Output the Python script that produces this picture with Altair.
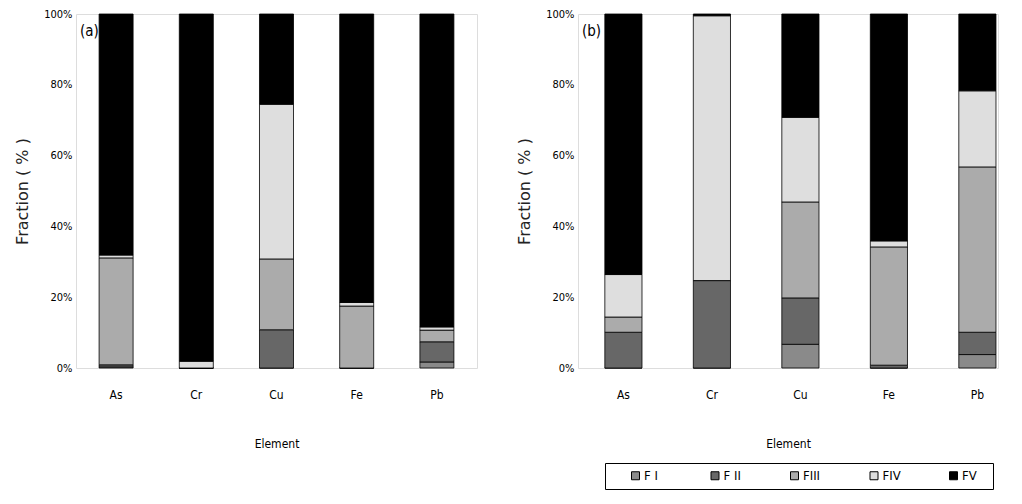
import altair as alt
import pandas as pd

elements = ["As", "Cr", "Cu", "Fe", "Pb"]
fractions = ["F I", "F II", "FIII", "FIV", "FV"]
fill_colors = ["#8a8a8a", "#676767", "#ababab", "#dedede", "#000000"]

# panel (a)
a_FI = [0.3, 0.0, 0.0, 0.0, 1.7]
a_FII = [0.6, 0.0, 10.8, 0.0, 5.7]
a_FIII = [30.2, 0.0, 20.0, 17.5, 3.3]
a_FIV = [0.8, 1.9, 43.7, 1.0, 0.9]
a_FV = [68.1, 98.1, 25.5, 81.5, 88.4]

# panel (b)
b_FI = [0.0, 0.0, 6.7, 0.0, 3.8]
b_FII = [10.1, 24.7, 13.1, 0.8, 6.3]
b_FIII = [4.3, 0.0, 27.1, 33.4, 46.7]
b_FIV = [12.0, 74.8, 23.9, 1.7, 21.5]
b_FV = [73.6, 0.5, 29.2, 64.1, 21.7]

y_ticks = [0, 20, 40, 60, 80, 100]

FONT = "Liberation Sans Narrow, DejaVu Sans Condensed, Liberation Sans, sans-serif"


def make_df(series):
    rows = []
    for k, (fr, vals) in enumerate(zip(fractions, series)):
        for el, v in zip(elements, vals):
            rows.append({"Element": el, "Fraction": fr, "order": k, "value": v})
    return pd.DataFrame(rows)


df_a = make_df([a_FI, a_FII, a_FIII, a_FIV, a_FV])
df_b = make_df([b_FI, b_FII, b_FIII, b_FIV, b_FV])


def panel(df, tag, width, height, x_scale, legend):
    bars = alt.Chart(df).mark_bar(stroke="black", strokeWidth=0.8).encode(
        x=alt.X("Element:N", sort=elements, scale=x_scale,
                axis=alt.Axis(title="Element", labelAngle=0, labelPadding=21,
                              titlePadding=38, ticks=False, domain=False,
                              labelFontSize=12, titleFontSize=12,
                              labelFont=FONT, titleFont=FONT,
                              titleFontWeight="normal", labelColor="black",
                              titleColor="black")),
        y=alt.Y("value:Q", stack="zero",
                scale=alt.Scale(domain=[0, 100], nice=False),
                axis=alt.Axis(title="Fraction ( % )", values=y_ticks,
                              labelExpr="datum.value + '%'", grid=False,
                              ticks=False, domain=False, labelPadding=4,
                              labelFontSize=11, titleFontSize=16,
                              labelFont=FONT, titleFont="DejaVu Sans",
                              titleFontWeight="normal", titlePadding=13,
                              labelColor="black", titleColor="#222222")),
        color=alt.Color("Fraction:N", sort=fractions,
                        scale=alt.Scale(domain=fractions, range=fill_colors),
                        legend=legend),
        order=alt.Order("order:Q", sort="ascending"),
    )
    label = alt.Chart(pd.DataFrame({"t": [tag]})).mark_text(
        align="left", baseline="middle", fontSize=15, font=FONT, color="black"
    ).encode(text="t:N", x=alt.value(4), y=alt.value(17))
    return alt.layer(bars, label).properties(width=width, height=height)


legend_b = alt.Legend(
    title="\u2002", titleOrient="right", titlePadding=10, titleFontSize=13,
    orient="none", legendX=27, legendY=449, direction="horizontal",
    columns=5, symbolType="square", symbolSize=64, symbolStrokeColor="black",
    symbolStrokeWidth=1, labelFontSize=13, labelFont=FONT, labelColor="black",
    strokeColor="black", padding=6, columnPadding=27.5, labelOffset=2,
    symbolOffset=18, gridAlign="all",
)

pa = panel(df_a, "(a)", 401, 354,
           alt.Scale(paddingInner=0.576, paddingOuter=0.288, align=0.5), None)
pb = panel(df_b, "(b)", 420, 354,
           alt.Scale(paddingInner=0.58, paddingOuter=0.163, align=0.93), legend_b)

chart = alt.hconcat(pa, pb, spacing=38).resolve_scale(
    color="independent", x="independent", y="independent"
).properties(
    padding={"left": 6, "top": -1, "right": 2, "bottom": 2}
).configure_view(
    stroke="black", strokeWidth=1
).configure(background="white")

chart.save("out.html", embed_options={"renderer": "svg", "actions": False})
